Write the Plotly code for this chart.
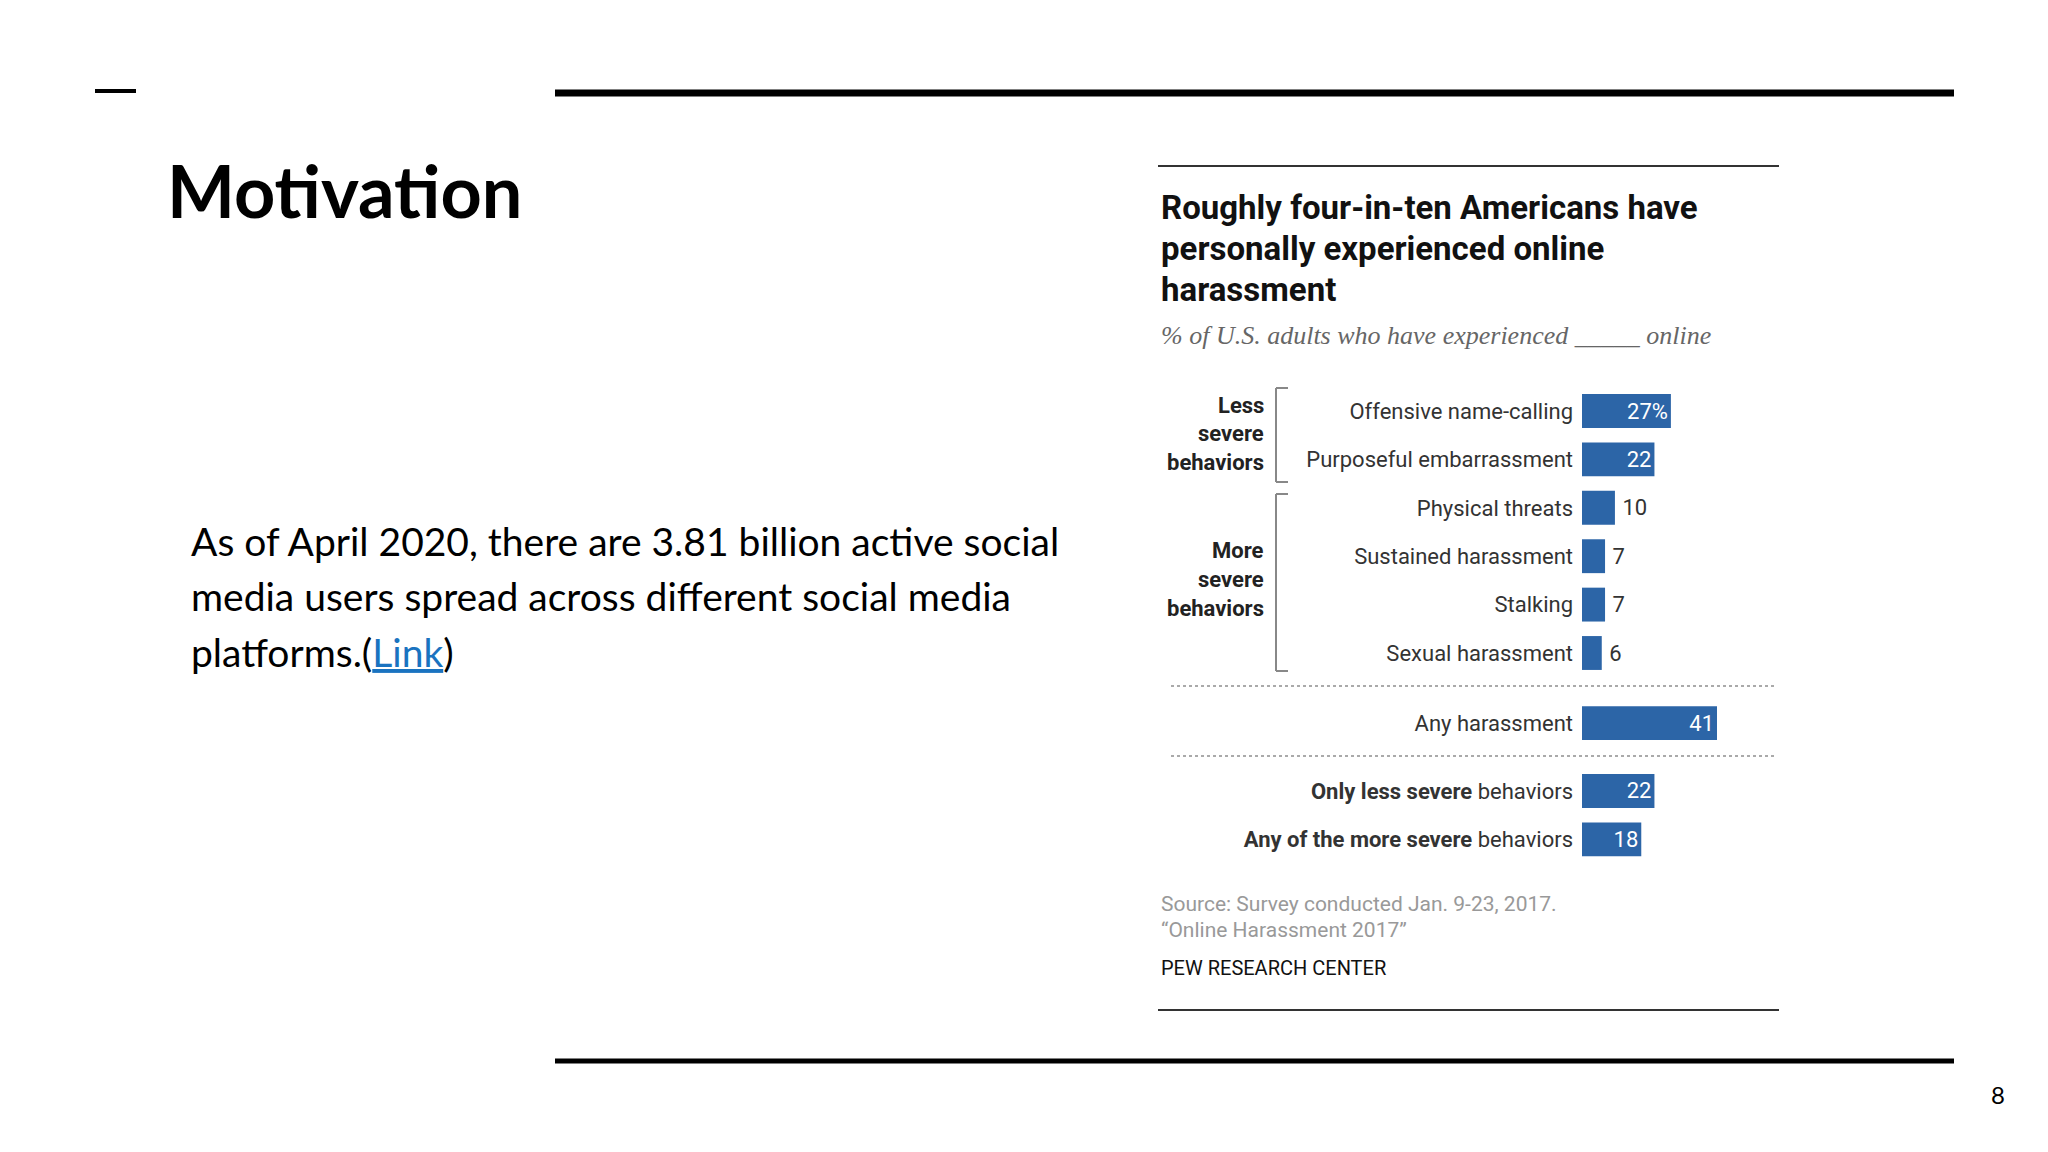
import plotly.graph_objects as go

# ---------------- data ----------------
categories = [
    "Offensive name-calling",
    "Purposeful embarrassment",
    "Physical threats",
    "Sustained harassment",
    "Stalking",
    "Sexual harassment",
    "Any harassment",
    "<b>Only less severe</b> behaviors",
    "<b>Any of the more severe</b> behaviors",
]
values = [27, 22, 10, 7, 7, 6, 41, 22, 18]
value_labels = ["27%", "22", "10", "7", "7", "6", "41", "22", "18"]

# ---------------- layout helpers ----------------
W, H = 2048, 1152
OFF = 8  # page body margin in the browser
FW, FH = W - OFF, H - OFF
def px(x):
    return (x - OFF) / FW
def py(y):
    return 1 - (y - OFF) / FH

# row positions on the y axis (layout: gaps between groups)
row_pos = [0, 1, 2, 3, 4, 5, 6.45, 7.85, 8.85]
text_pos = ["inside" if v >= 15 else "outside" for v in values]
shown_text = [l if p == "inside" else "\u2009" + l for l, p in zip(value_labels, text_pos)]

BLUE = "#2c65a7"
CHART_FONT = "Roboto, 'Liberation Sans', sans-serif"

# y axis pixel mapping: row 0 at 411px, 48.4 px per unit
ROW0, UNIT = 411, 48.4
y_lo, y_hi = -0.8, 9.6
y_top_px = ROW0 + y_lo * UNIT
y_bot_px = ROW0 + y_hi * UNIT

# x axis: 0 at 1582px, 3.293 px per unit
X0, XU = 1582, 135 / 41
x_right_px = 1779
x_hi = (x_right_px - X0) / XU

fig = go.Figure()
fig.add_trace(go.Bar(
    x=values,
    y=row_pos,
    orientation="h",
    width=0.70,
    marker=dict(color=BLUE, line=dict(width=0)),
    text=shown_text,
    textposition=text_pos,
    insidetextanchor="end",
    constraintext="none",
    cliponaxis=False,
    insidetextfont=dict(color="white", size=22, family=CHART_FONT),
    outsidetextfont=dict(color="#333333", size=22, family=CHART_FONT),
    hoverinfo="skip",
))

shapes = []
annotations = []

def hline(x0, x1, y, color, width, dash=None):
    d = dict(type="line", xref="paper", yref="paper",
             x0=px(x0), x1=px(x1), y0=py(y), y1=py(y),
             line=dict(color=color, width=width))
    if dash:
        d["line"]["dash"] = dash
    shapes.append(d)

def vline(x, y0, y1, color, width):
    shapes.append(dict(type="line", xref="paper", yref="paper",
                       x0=px(x), x1=px(x), y0=py(y0), y1=py(y1),
                       line=dict(color=color, width=width)))

def text(x, y, s, size, color="#000", family=CHART_FONT, xanchor="left", yanchor="middle"):
    annotations.append(dict(xref="paper", yref="paper", x=px(x), y=py(y),
                            text=s, showarrow=False, xanchor=xanchor, yanchor=yanchor,
                            font=dict(size=size, color=color, family=family)))

# slide decorations
hline(95, 136, 91, "#000", 4)
hline(555, 1954, 93, "#000", 7)
hline(555, 1954, 1061, "#000", 5)

# slide title & body
text(165, 190, "<b>Motivation</b>", 72, "#000", "Lato, sans-serif")
body_lines = [
    "As of April 2020, there are 3.81 billion active social",
    "media users spread across different social media",
    "platforms.(<a href='https://datareportal.com' style='color:#1a73c0'><u>Link</u></a>)",
]
for i, ln in enumerate(body_lines):
    text(189, 541 + i * 55.5, ln, 39, "#000", "Lato, sans-serif")
text(1998, 1094, "8", 24, "#000", "Lato, sans-serif", xanchor="center")

# chart frame lines
hline(1158, 1779, 166, "#333", 2)
hline(1158, 1779, 1010, "#333", 2)

# chart title & subtitle
title_lines = ["Roughly four-in-ten Americans have", "personally experienced online", "harassment"]
for i, ln in enumerate(title_lines):
    text(1159, 207 + i * 41.5, "<b>" + ln + "</b>", 33, "#111", CHART_FONT)
text(1159, 336, "<i>% of U.S. adults who have experienced _____ online</i>", 26, "#666",
     "'Liberation Serif', serif")

# group labels
for i, ln in enumerate(["Less", "severe", "behaviors"]):
    text(1266, 405 + i * 28.5, "<b>" + ln + "</b>", 22, "#222", CHART_FONT, xanchor="right")
for i, ln in enumerate(["More", "severe", "behaviors"]):
    text(1266, 551 + i * 28.5, "<b>" + ln + "</b>", 22, "#222", CHART_FONT, xanchor="right")

# brackets
for (y0, y1) in [(388, 482), (494, 671)]:
    vline(1276, y0, y1, "#888", 2)
    hline(1276, 1288, y0, "#888", 2)
    hline(1276, 1288, y1, "#888", 2)

# dotted separators
hline(1171, 1776, 686, "#aaa", 2, "dot")
hline(1171, 1776, 756, "#aaa", 2, "dot")

# source
text(1159, 904, "Source: Survey conducted Jan. 9-23, 2017.", 21, "#999", CHART_FONT)
text(1159, 930, "\u201cOnline Harassment 2017\u201d", 21, "#999", CHART_FONT)
text(1159, 968, "PEW RESEARCH CENTER", 20, "#111", CHART_FONT)

fig.update_layout(
    width=FW, height=FH,
    margin=dict(l=0, r=0, t=0, b=0),
    paper_bgcolor="white", plot_bgcolor="rgba(0,0,0,0)",
    showlegend=False,
    shapes=shapes,
    annotations=annotations,
    xaxis=dict(domain=[px(X0), px(x_right_px)], range=[0, x_hi],
               showgrid=False, zeroline=False, showticklabels=False, showline=False,
               fixedrange=True),
    yaxis=dict(domain=[py(y_bot_px), py(y_top_px)], range=[y_hi, y_lo],
               tickvals=row_pos, ticktext=categories, ticks="",
               ticklabelstandoff=8,
               tickfont=dict(size=22, color="#333", family=CHART_FONT),
               showgrid=False, zeroline=False, showline=False, fixedrange=True),
)

fig.write_html("out.html", config={"displayModeBar": False})
